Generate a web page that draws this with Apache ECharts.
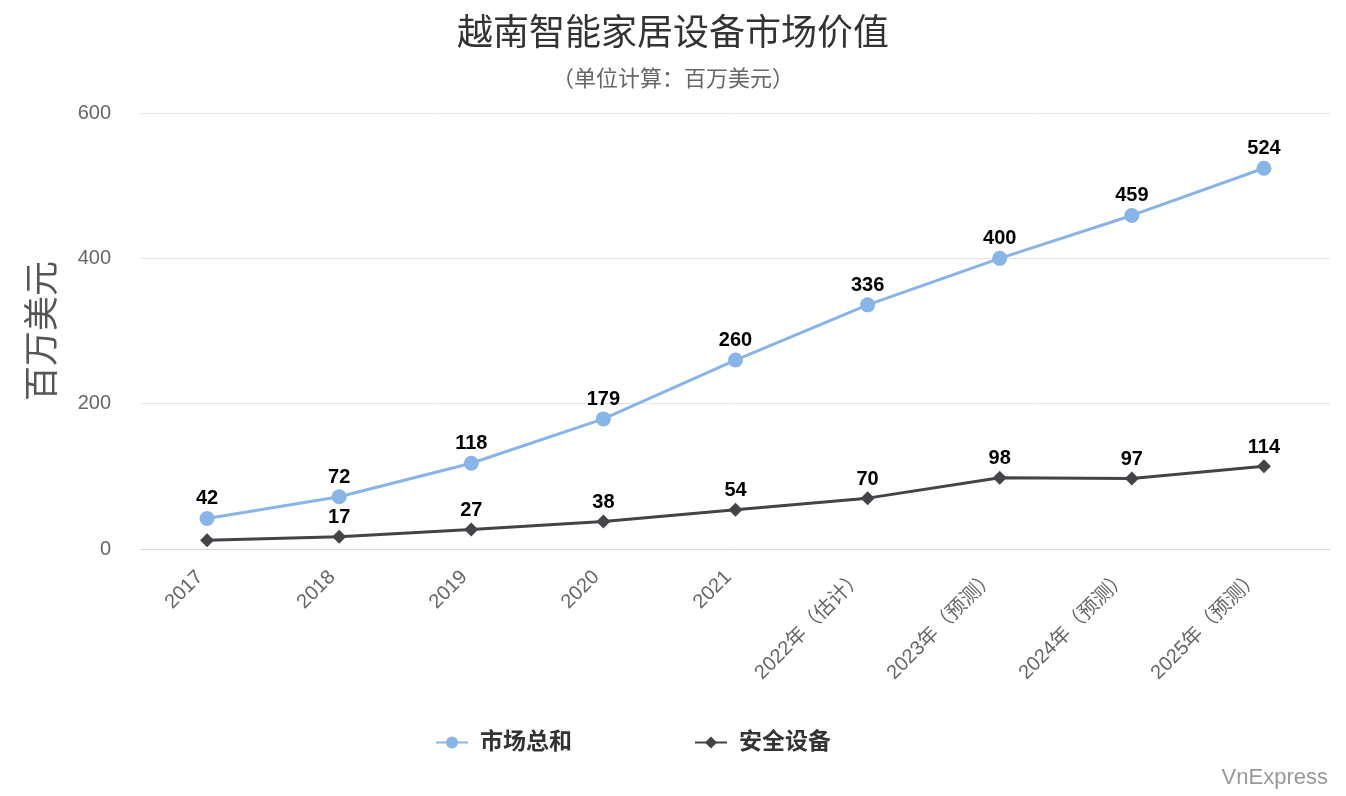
<!DOCTYPE html>
<html>
<head>
<meta charset="utf-8">
<script src="https://cdn.jsdelivr.net/npm/echarts@6/dist/echarts.min.js"></script>
<style>
  html, body { margin: 0; padding: 0; background: #fff; }
  #chart { width: 1346px; height: 796px; }
</style>
</head>
<body>
<div id="chart"></div>
<script>
// data
const categories = ['2017', '2018', '2019', '2020', '2021', '2022年（估计）', '2023年（预测）', '2024年（预测）', '2025年（预测）'];
const marketTotal = [42, 72, 118, 179, 260, 336, 400, 459, 524];
const security = [12, 17, 27, 38, 54, 70, 98, 97, 114];
const yTicks = [0, 200, 400, 600];

const font = '"Liberation Sans", "Noto Sans CJK SC", sans-serif';

const chart = echarts.init(document.getElementById('chart'));

const labelStyle = {
  show: true,
  position: 'top',
  distance: 2,
  color: '#000',
  fontWeight: 'bold',
  fontSize: 20,
  fontFamily: font
};

chart.setOption({
  animation: false,
  textStyle: { fontFamily: font },
  title: [
    {
      text: '越南智能家居设备市场价值',
      left: 'center',
      top: 12,
      textStyle: { fontSize: 36, fontWeight: 'normal', color: '#333', fontFamily: font }
    },
    {
      text: '（单位计算：百万美元）',
      left: 'center',
      top: 64,
      textStyle: { fontSize: 22, fontWeight: 'normal', color: '#666', fontFamily: font }
    },
    {
      text: 'VnExpress',
      right: 13,
      top: 762,
      textStyle: { fontSize: 22, fontWeight: 'normal', color: '#999', fontFamily: font }
    }
  ],
  legend: {
    bottom: 37,
    left: 430,
    itemGap: 122,
    itemWidth: 32,
    itemHeight: 15,
    textStyle: { fontSize: 23, fontWeight: 'bold', color: '#333', fontFamily: font, padding: [0, 0, 0, 7] },
    data: ['市场总和', '安全设备']
  },
  grid: { left: 141, right: 16, top: 113, bottom: 247 },
  xAxis: {
    type: 'category',
    data: categories,
    axisLine: { lineStyle: { color: '#ccd6eb' } },
    axisTick: { show: false },
    axisLabel: {
      rotate: 45,
      margin: 18,
      padding: [0, 10, 0, 0],
      fontSize: 20,
      color: '#666',
      fontFamily: font
    }
  },
  yAxis: {
    type: 'value',
    min: 0,
    max: 600,
    interval: 200,
    name: '百万美元',
    nameLocation: 'middle',
    nameGap: 79,
    nameTextStyle: { fontSize: 35, color: '#555', fontFamily: font },
    axisLine: { show: false },
    axisTick: { show: false },
    axisLabel: {
      margin: 30,
      fontSize: 20,
      color: '#666',
      fontFamily: font,
      formatter: v => (yTicks.includes(v) ? String(v) : '')
    },
    splitLine: { lineStyle: { color: '#e6e6e6', width: 1 } }
  },
  series: [
    {
      name: '市场总和',
      type: 'line',
      data: marketTotal,
      symbol: 'circle',
      symbolSize: 15,
      itemStyle: { color: '#88b4e7' },
      lineStyle: { width: 3, color: '#88b4e7' },
      label: labelStyle,
      z: 3
    },
    {
      name: '安全设备',
      type: 'line',
      data: security.map((v, i) => (i === 0 ? { value: v, label: { show: false } } : v)),
      symbol: 'diamond',
      symbolSize: 14,
      itemStyle: { color: '#434348' },
      lineStyle: { width: 3, color: '#434348' },
      label: labelStyle,
      z: 2
    }
  ]
});
</script>
</body>
</html>
